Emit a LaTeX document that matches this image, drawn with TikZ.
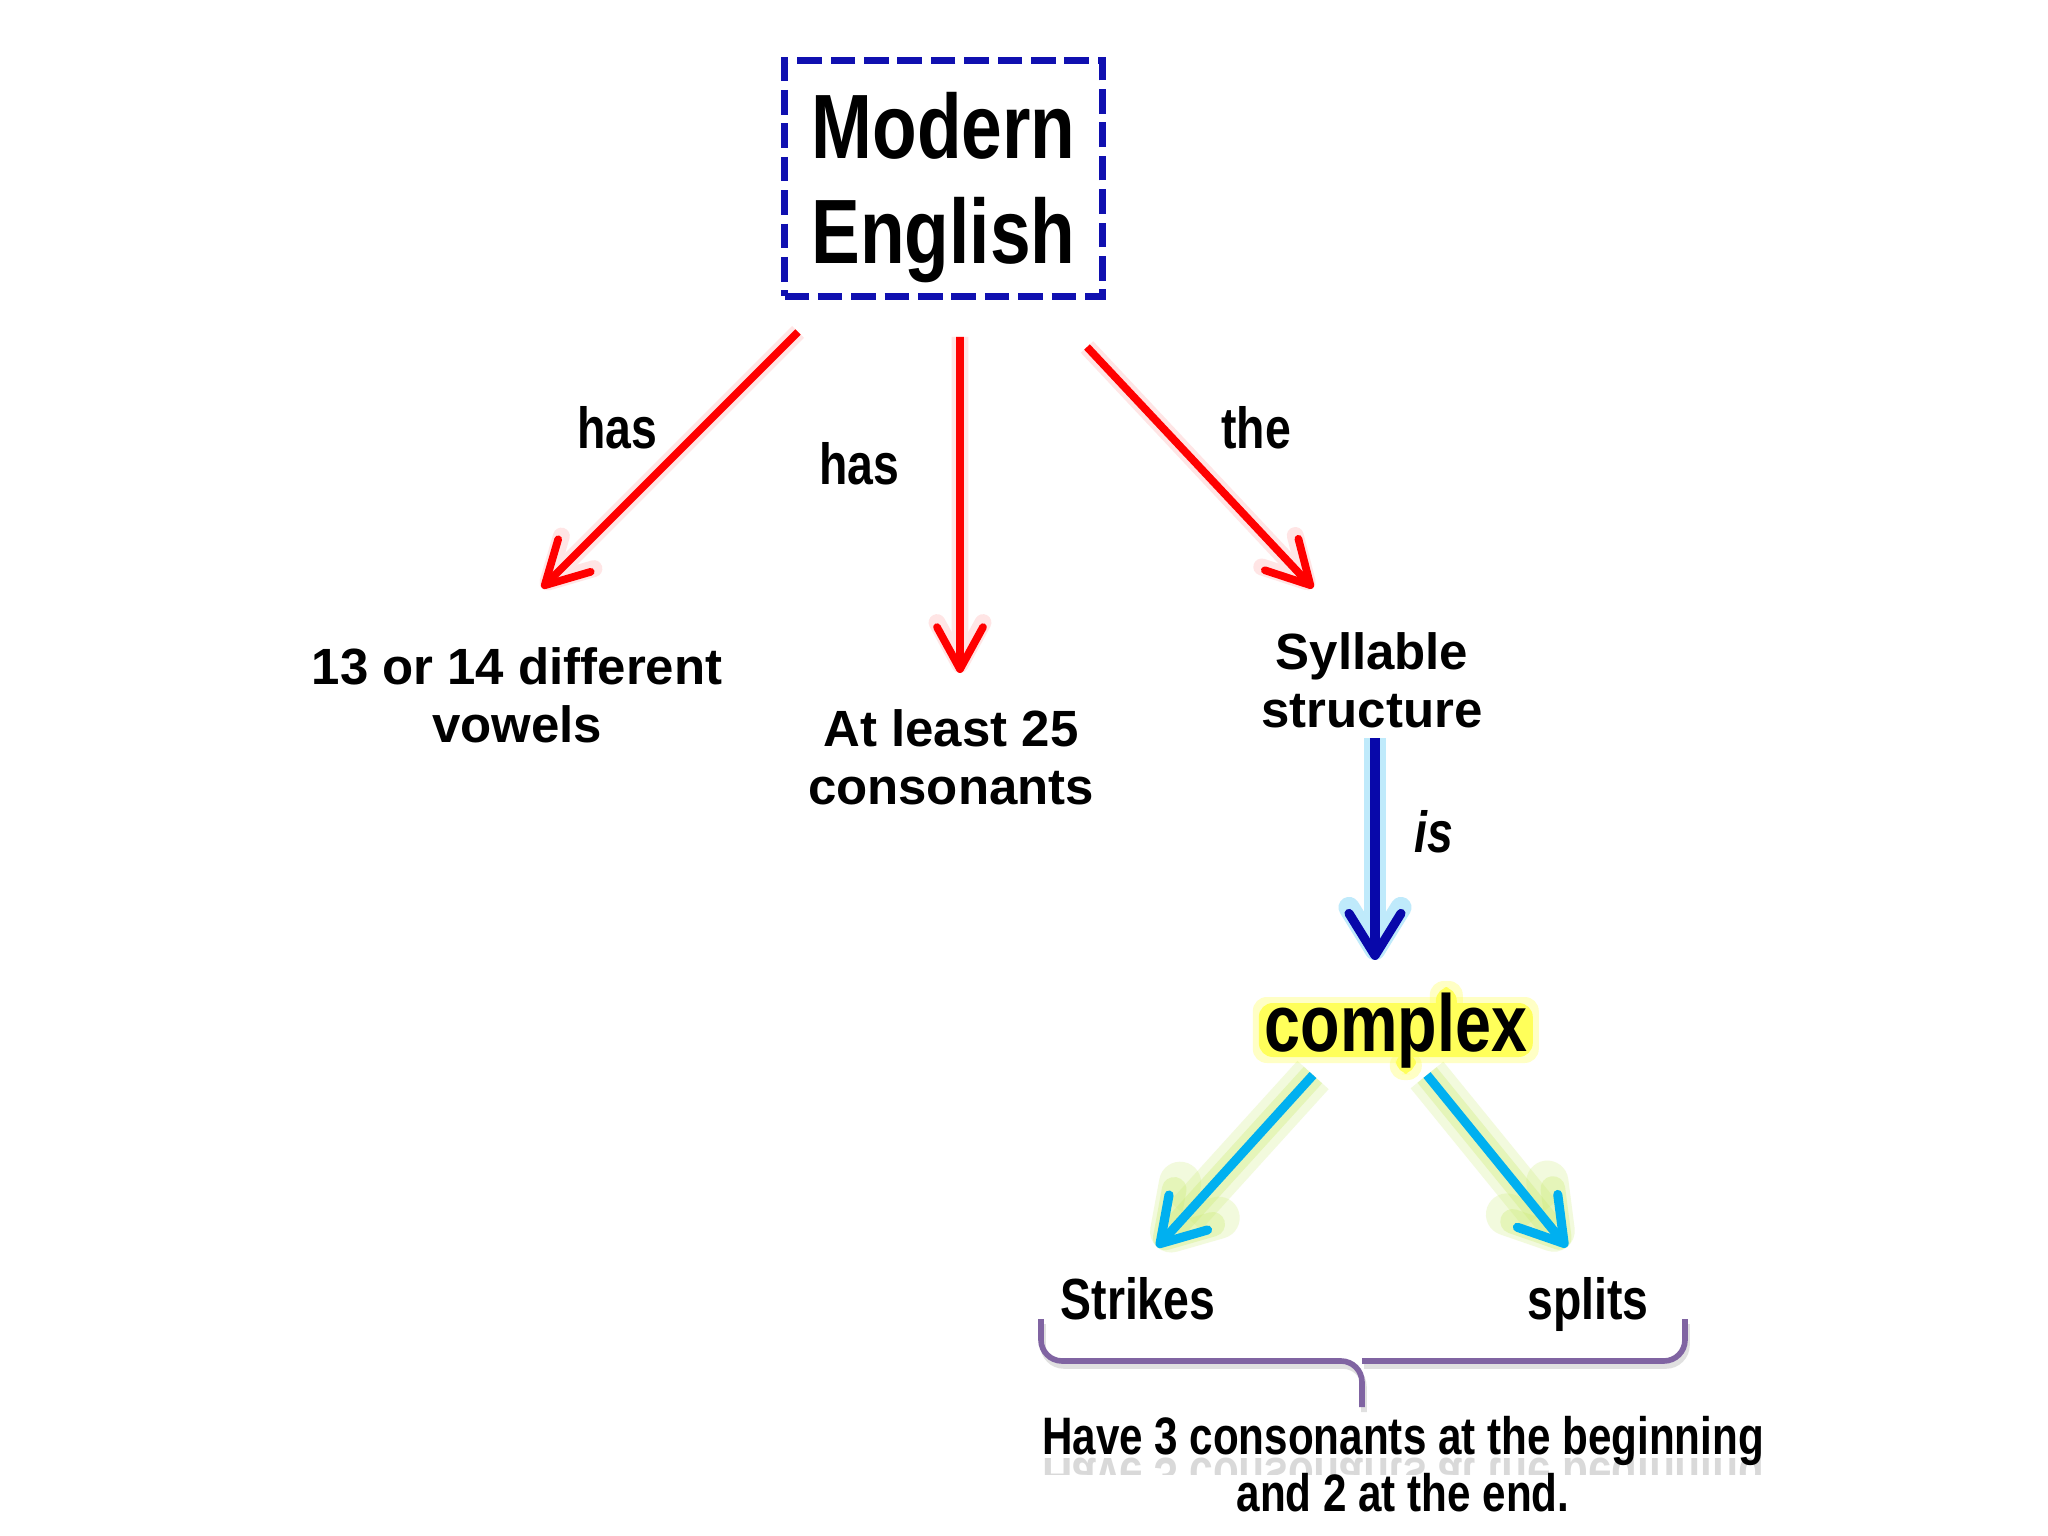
\documentclass[tikz,border=0pt]{standalone}
\usepackage{fontspec}
\setmainfont{Liberation Sans}
\newfontfamily\narrowfont[FakeStretch=0.8]{Liberation Sans}
\usetikzlibrary{arrows.meta,backgrounds}
\definecolor{boxblue}{RGB}{16,16,176}
\definecolor{isblue}{RGB}{8,8,170}
\definecolor{skyblue}{RGB}{0,176,240}
\definecolor{glowgreen}{RGB}{206,236,120}
\definecolor{glowyellow}{RGB}{255,255,90}
\definecolor{bracepurple}{RGB}{128,100,162}

\begin{document}
\begin{tikzpicture}[
    every node/.style={inner sep=0pt, outer sep=0pt},
    bigtext/.style={font=\bfseries\fontsize{14.5}{16.5}\selectfont, align=center},
    linklabel/.style={font=\narrowfont\bfseries\fontsize{16.5}{19}\selectfont},
    leaftext/.style={font=\narrowfont\bfseries\fontsize{16.5}{19}\selectfont, anchor=base},
    notetext/.style={font=\narrowfont\bfseries\fontsize{15}{18}\selectfont, anchor=base},
    titlebox/.style={draw=boxblue, line width=2pt, dash pattern=on 7pt off 2.5pt,
        minimum width=3.18cm, minimum height=2.36cm,
        font=\narrowfont\bfseries\fontsize{26}{30}\selectfont},
    redarrow/.style={draw=red, line width=2.2pt, -{Straight Barb[round,length=4.2mm,width=4.6mm]},
        preaction={draw=red!10, line width=4.8pt}},
    isarrow/.style={draw=isblue, line width=2.6pt, -{Straight Barb[round,length=4.2mm,width=5.2mm]},
        preaction={draw=cyan!25, line width=6pt}},
    skyarrow/.style={draw=skyblue, line width=2.6pt, -{Straight Barb[round,length=4.2mm,width=5.2mm]},
        preaction={draw=glowgreen, opacity=0.25, line width=12pt},
        preaction={draw=glowgreen, opacity=0.35, line width=7pt}},
    glow/.style={fill=glowyellow, rounded corners=4pt},
    braceline/.style={draw=bracepurple, line width=1.6pt, rounded corners=6pt},
    braceshadow/.style={draw=gray!60, opacity=0.4, line width=1.6pt, rounded corners=6pt}]

    \begin{scope}[on background layer]
        \fill[white] (0,0) rectangle (20.48,-15.36);
    \end{scope}
    \useasboundingbox (0,0) rectangle (20.48,-15.36);

    \node[titlebox] (title) at (9.435,-1.785)
        {\parbox{3cm}{\centering\vspace*{0.18cm}Modern\\English}};
    \node[bigtext] (vowels) at (5.17,-6.95) {13 or 14 different\\vowels};
    \node[bigtext] (least) at (9.51,-7.57) {At least 25\\consonants};
    \node[bigtext] (syll) at (13.72,-6.80) {Syllable\\structure};
    \node[font=\narrowfont\bfseries\fontsize{23}{27}\selectfont, anchor=base] (complex) at (13.96,-10.51) {complex};
    \node[leaftext] (strikes) at (11.38,-13.19) {Strikes};
    \node[leaftext] (splits) at (15.88,-13.19) {splits};

    \node[linklabel] (has1) at (6.17,-4.28) {has};
    \node[linklabel] (has2) at (8.59,-4.64) {has};
    \node[linklabel] (the) at (12.56,-4.28) {the};
    \node[linklabel, font=\narrowfont\bfseries\itshape\fontsize{16.5}{19}\selectfont] (is) at (14.34,-8.32) {is};

    \begin{scope}[on background layer, shift={(complex.base west)}]
        \fill[glow, opacity=0.35] (-0.12,-0.12) rectangle (2.74,0.54);
        \fill[glow, opacity=0.35] (1.65,0) rectangle (1.98,0.70);
        \fill[glow, opacity=0.35] (1.25,-0.29) rectangle (1.57,0);
        \fill[glow] (-0.06,-0.06) rectangle (2.68,0.48);
        \fill[glow] (1.71,0) rectangle (1.92,0.64);
        \fill[glow] (1.31,-0.23) rectangle (1.51,0);
    \end{scope}

    \draw[redarrow] ([shift={(0.135,-0.355)}]title.south west) -- ([shift={(0.25,1.07)}]vowels.center);
    \draw[redarrow] ([shift={(0.165,-0.405)}]title.south) -- ([shift={(0.09,0.84)}]least.center);
    \draw[redarrow] ([shift={(-0.155,-0.505)}]title.south east) -- ([shift={(-0.59,0.92)}]syll.center);
    \draw[isarrow] ([shift={(0.03,-0.58)}]syll.center) -- ([shift={(-0.21,0.91)}]complex.base);
    \draw[skyarrow] ([shift={(-0.83,-0.24)}]complex.base) -- ([shift={(0.19,0.72)}]strikes.base);
    \draw[skyarrow] ([shift={(0.31,-0.24)}]complex.base) -- ([shift={(-0.21,0.72)}]splits.base);

    \draw[braceshadow] (10.43,-13.24) |- (13.64,-13.66) -- (13.64,-14.12);
    \draw[braceshadow] (16.87,-13.24) |- (13.64,-13.66);
    \draw[braceline] (10.41,-13.19) |- (13.62,-13.61) -- (13.62,-14.07);
    \draw[braceline] (16.85,-13.19) |- (13.62,-13.61);

    \node[notetext] (have) at (14.03,-14.54) {Have 3 consonants at the beginning};
    \node[notetext] (theend) at (14.03,-15.11) {and 2 at the end.};
    \begin{scope}
        \clip (9,-14.57) rectangle (19,-14.74);
        \node[notetext, yscale=-1, opacity=0.15] (haverefl) at (14.03,-14.58) {Have 3 consonants at the beginning};
    \end{scope}
\end{tikzpicture}
\end{document}
